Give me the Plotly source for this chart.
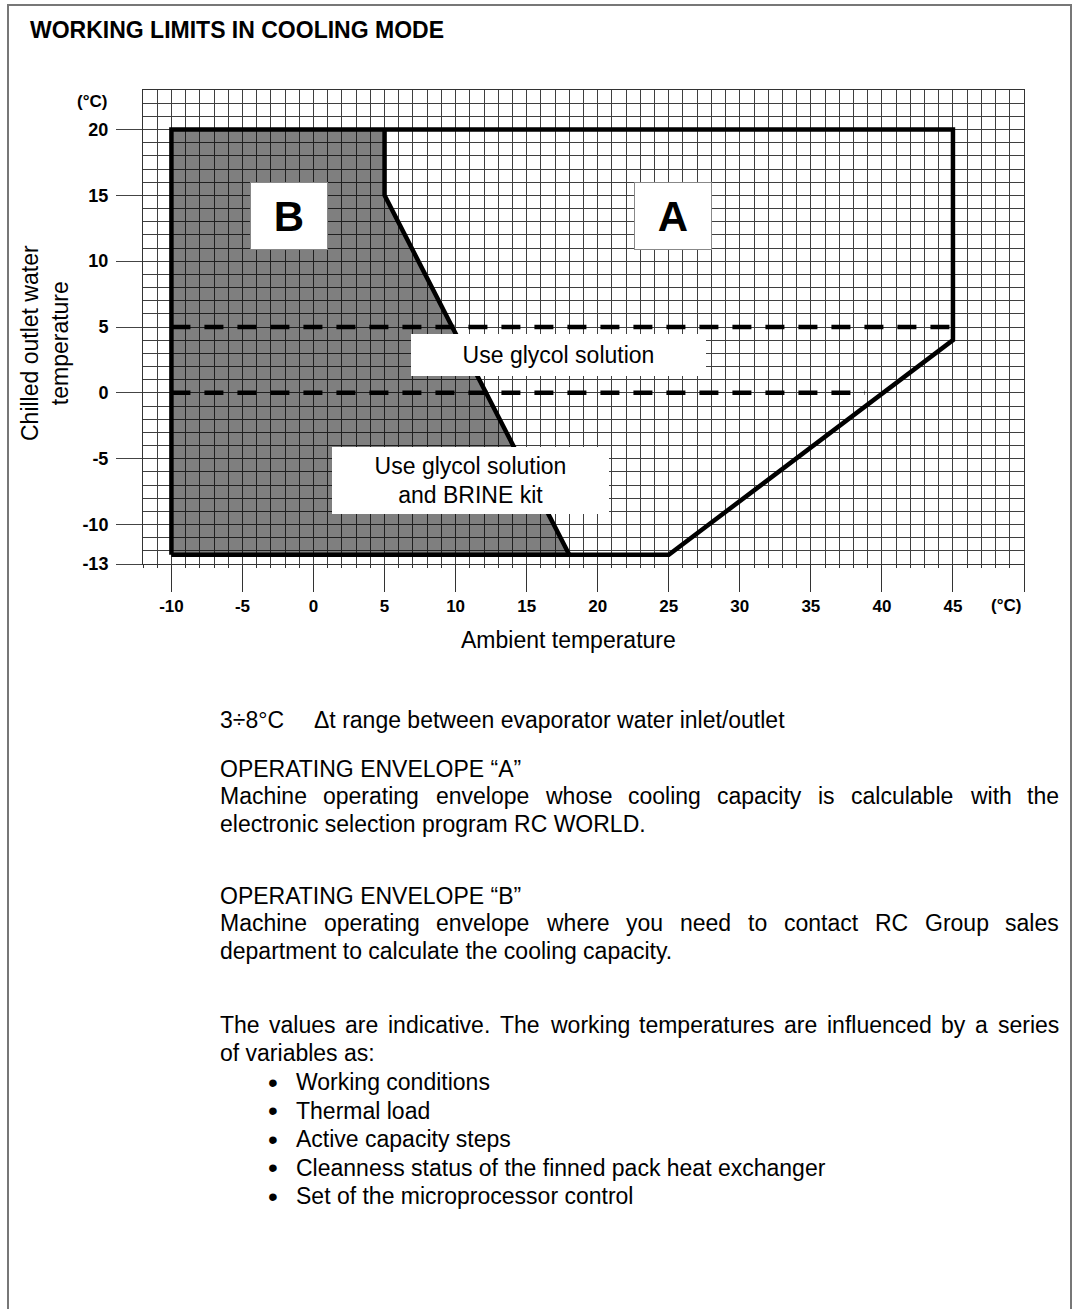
import plotly.graph_objects as go

# ---------------- DATA ----------------
x_tick_vals = [-10, -5, 0, 5, 10, 15, 20, 25, 30, 35, 40, 45, 50]
x_tick_text = ["-10", "-5", "0", "5", "10", "15", "20", "25", "30", "35", "40", "45", ""]
y_tick_vals = [20, 15, 10, 5, 0, -5, -10, -13]
y_tick_text = ["20", "15", "10", "5", "0", "-5", "-10", "-13"]

# overall working envelope outline (ambient temp, chilled outlet water temp)
envelope_x = [-10, -10, 45, 45, 25, 18, -10]
envelope_y = [-12.3, 20, 20, 4, -12.3, -12.3, -12.3]
# zone B (grey area)
zone_b_x = [-10, -10, 5, 5, 18, -10]
zone_b_y = [-12.3, 20, 20, 15, -12.3, -12.3]
# boundary between zone A and zone B
divider_x = [5, 5, 18]
divider_y = [20, 15, -12.3]
# glycol limits (dashed)
glycol_x = [-10, 45]
glycol_y = [5, 5]
brine_x = [-10, 38.8]
brine_y = [0, 0]

title_text = "WORKING LIMITS IN COOLING MODE"
y_title = "Chilled outlet water<br>temperature"
x_title = "Ambient temperature"

# ---------------- LAYOUT HELPERS ----------------
W, H = 1082, 1309
ML, MR, MT, MB = 143, 58, 90, 745
PW, PH = W - ML - MR, H - MT - MB
FONT = "Liberation Sans, Arial, Helvetica, sans-serif"


def px(x):
    return (x - ML) / PW


def py(y):
    return (H - MB - y) / PH


_lw = dict(zip("abcdefghijklmnopqrstuvwxyz",
               [556, 556, 500, 556, 556, 278, 556, 556, 222, 222, 500, 222, 833,
                556, 556, 556, 556, 333, 500, 278, 556, 500, 722, 500, 500, 500]))
_uw = dict(zip("ABCDEFGHIJKLMNOPQRSTUVWXYZ",
               [667, 667, 722, 722, 667, 611, 778, 722, 278, 500, 667, 556, 833,
                722, 778, 667, 778, 722, 667, 611, 722, 667, 944, 667, 667, 611]))
AW = {**_lw, **_uw, " ": 278, ".": 278, ",": 278, ":": 278, "/": 278,
      "“": 333, "”": 333, "-": 333}


def tw(s, fs):
    return sum(AW.get(c, 556) for c in s) * fs / 1000.0


fig = go.Figure()

fig.add_trace(go.Scatter(x=zone_b_x, y=zone_b_y, fill="toself",
                         fillcolor="rgba(0,0,0,0.5)", mode="lines",
                         line=dict(width=0), hoverinfo="skip", showlegend=False))
fig.add_trace(go.Scatter(x=glycol_x, y=glycol_y, mode="lines",
                         line=dict(color="black", width=4.5, dash="19px,14px"),
                         hoverinfo="skip", showlegend=False))
fig.add_trace(go.Scatter(x=brine_x, y=brine_y, mode="lines",
                         line=dict(color="black", width=4.5, dash="19px,14px"),
                         hoverinfo="skip", showlegend=False))
fig.add_trace(go.Scatter(x=envelope_x, y=envelope_y, mode="lines",
                         line=dict(color="black", width=4.5),
                         hoverinfo="skip", showlegend=False))
fig.add_trace(go.Scatter(x=divider_x, y=divider_y, mode="lines",
                         line=dict(color="black", width=4.5),
                         hoverinfo="skip", showlegend=False))

GRID = "#3f3f3f"
TICKFONT = dict(family=FONT, size=17, color="black", weight="bold")
fig.update_xaxes(range=[-12, 50], tickmode="array", tickvals=x_tick_vals,
                 ticktext=x_tick_text, ticks="outside", ticklen=27, tickwidth=1,
                 tickcolor="#333", showgrid=True, gridcolor=GRID, gridwidth=1,
                 minor=dict(tickmode="linear", tick0=0, dtick=1, showgrid=True,
                            gridcolor=GRID, gridwidth=1, ticks="outside",
                            ticklen=3, tickcolor="#333"),
                 showline=True, linecolor="#333", linewidth=1, mirror=True,
                 zeroline=False, fixedrange=True, tickfont=TICKFONT)
fig.update_yaxes(range=[-13, 23], tickmode="array", tickvals=y_tick_vals,
                 ticktext=y_tick_text, ticks="outside", ticklen=26, tickwidth=1,
                 tickcolor="#444", showgrid=True, gridcolor=GRID, gridwidth=1,
                 minor=dict(tickmode="linear", tick0=0, dtick=1, showgrid=True,
                            gridcolor=GRID, gridwidth=1),
                 showline=True, linecolor="#333", linewidth=1, mirror=True,
                 zeroline=False, fixedrange=True, ticklabelstandoff=4,
                 tickfont=dict(family=FONT, size=18, color="black", weight="bold"))

ann = []


def text(x, y, s, size=23, xanchor="left", bold=False, **kw):
    ann.append(dict(x=px(x), y=py(y), xref="paper", yref="paper", text=s,
                    showarrow=False, xanchor=xanchor, yanchor="middle",
                    borderpad=0,
                    font=dict(family=FONT, size=size, color="black",
                              weight="bold" if bold else "normal"), **kw))


# boxes inside the chart
def box(cx, cy, w, h, s, size, bold=False, border=False):
    ann.append(dict(x=px(cx), y=py(cy), xref="paper", yref="paper", text=s,
                    showarrow=False, xanchor="center", yanchor="middle",
                    width=w, height=h, bgcolor="white", borderpad=0,
                    bordercolor="#888" if border else "white",
                    borderwidth=1 if border else 0,
                    font=dict(family=FONT, size=size, color="black",
                              weight="bold" if bold else "normal")))


box(289, 216, 76, 66, "B", 42, bold=True, border=True)
box(673, 216, 76, 66, "A", 42, bold=True, border=True)
box(558.5, 355, 295, 42, "Use glycol solution", 23)
box(470.5, 480.5, 277, 67, "Use glycol solution<br>and BRINE kit", 23)

# title and axis labels
text(29, 30, title_text, size=23, bold=True)
text(108, 101, "(°C)", size=17, xanchor="right", bold=True)
text(1006, 605, "(°C)", size=17, xanchor="center", bold=True)
text(568, 640, x_title, size=23, xanchor="center")
ann.append(dict(x=px(45), y=py(343), xref="paper", yref="paper", text=y_title,
                showarrow=False, xanchor="center", yanchor="middle",
                textangle=-90, borderpad=0,
                font=dict(family=FONT, size=23, color="black")))

# body text
LEFT, RIGHT = 219, 1058


def justified(y, s, size=23):
    words = s.split(" ")
    widths = [tw(w_, size) for w_ in words]
    gap = (RIGHT - LEFT - sum(widths)) / (len(words) - 1)
    x = LEFT
    for w_, wd in zip(words, widths):
        text(x, y, w_, size=size)
        x += wd + gap


text(LEFT, 720, "3÷8°C")
text(313, 720, "Δt range between evaporator water inlet/outlet")
text(LEFT, 769, "OPERATING ENVELOPE “A”")
justified(796, "Machine operating envelope whose cooling capacity is calculable with the")
text(LEFT, 824, "electronic selection program RC WORLD.")
text(LEFT, 896, "OPERATING ENVELOPE “B”")
justified(923, "Machine operating envelope where you need to contact RC Group sales")
text(LEFT, 951, "department to calculate the cooling capacity.")
justified(1025, "The values are indicative. The working temperatures are influenced by a series")
text(LEFT, 1053, "of variables as:")
bullets = ["Working conditions", "Thermal load", "Active capacity steps",
           "Cleanness status of the finned pack heat exchanger",
           "Set of the microprocessor control"]
for i, b in enumerate(bullets):
    yy = 1082 + i * 28.6
    text(273, yy, "•", size=28, xanchor="center")
    text(295, yy, b)

# outer page frame
shapes = [dict(type="rect", xref="paper", yref="paper",
               x0=px(8), x1=px(1071), y0=py(1340), y1=py(5),
               line=dict(color="#777", width=2), fillcolor="rgba(0,0,0,0)",
               layer="above")]

fig.update_layout(width=W, height=H, margin=dict(l=ML, r=MR, t=MT, b=MB, pad=0),
                  paper_bgcolor="white", plot_bgcolor="white",
                  annotations=ann, shapes=shapes, showlegend=False,
                  font=dict(family=FONT, color="black"))

fig.write_html("out.html", config={"displayModeBar": False},
               post_script="document.body.style.margin='0px';")
